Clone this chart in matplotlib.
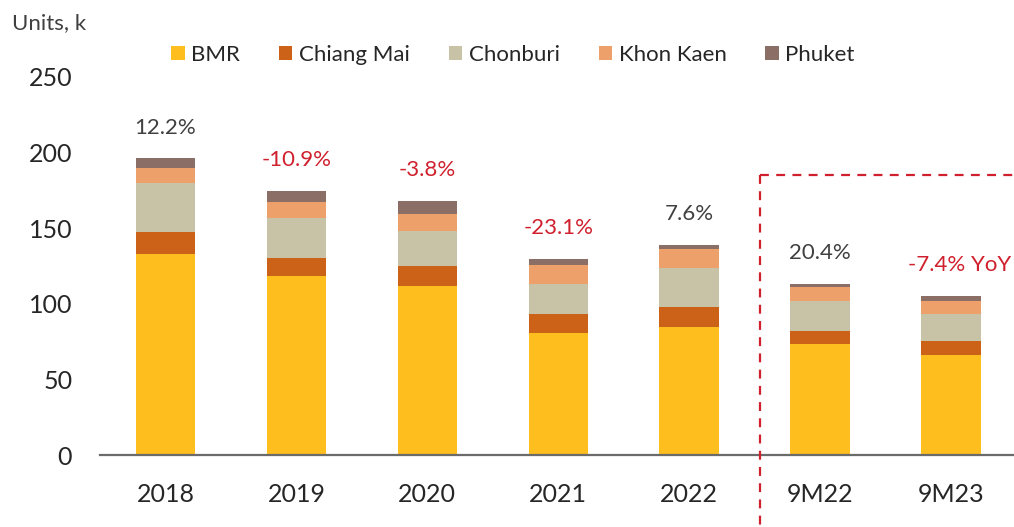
import numpy as np
import matplotlib.pyplot as plt

plt.rcParams['font.family'] = ['Lato', 'DejaVu Sans']

# data (units, thousands)
periods = ["2018", "2019", "2020", "2021", "2022", "9M22", "9M23"]
bmr = [132.7, 118.4, 111.8, 80.5, 84.9, 73.2, 66.3]
chiang_mai = [14.6, 12.1, 13.2, 12.8, 12.8, 9.0, 9.3]
chonburi = [32.4, 26.2, 23.1, 19.6, 25.8, 19.9, 17.7]
khon_kaen = [9.9, 10.6, 11.5, 12.8, 13.0, 9.2, 8.3]
phuket = [6.6, 7.3, 8.4, 3.9, 2.4, 1.8, 3.8]
growth_labels = ["12.2%", "-10.9%", "-3.8%", "-23.1%", "7.6%", "20.4%", "-7.4% YoY"]
yticks = [0, 50, 100, 150, 200, 250]

series = [
    ("BMR", bmr, "#FDBE1E"),
    ("Chiang Mai", chiang_mai, "#CC6118"),
    ("Chonburi", chonburi, "#C8C3A6"),
    ("Khon Kaen", khon_kaen, "#EDA06A"),
    ("Phuket", phuket, "#8B6E66"),
]

RED = "#D0202E"
TXT = "#262626"

fig = plt.figure(figsize=(10.14, 5.27), dpi=100)
ax = fig.add_axes([0.0986, 0.1366, 0.9014, 0.7173])

x = np.arange(len(periods))
bottom = np.zeros(len(periods))
for name, vals, col in series:
    ax.bar(x, vals, width=0.455, bottom=bottom, color=col, label=name, zorder=2)
    bottom += np.array(vals)

# growth annotations above each stack
for xi, tot, lab in zip(x, bottom, growth_labels):
    col = RED if lab.startswith("-") else "#404040"
    dx = 6 if "YoY" in lab else 0
    ax.annotate(lab, (xi, tot), xytext=(dx, 22), textcoords="offset points",
                ha="center", va="center", fontsize=16, color=col)

ax.set_xlim(-0.5, 6.48)
ax.set_ylim(0, 250)
ax.set_yticks(yticks)
ax.set_xticks(x)
ax.set_xticklabels(periods)
ax.tick_params(axis="both", length=0, labelsize=18, labelcolor=TXT)
ax.tick_params(axis="y", pad=20)
ax.tick_params(axis="x", pad=20)

for s in ["top", "right", "left"]:
    ax.spines[s].set_visible(False)
ax.spines["bottom"].set_color("#6b6b6b")
ax.spines["bottom"].set_linewidth(1.6)
ax.spines["bottom"].set_zorder(3)

# dashed box around the 9M comparison
box_x, box_top = 4.54, 185.2
ax.plot([box_x, box_x], [box_top, -50], color=RED, lw=1.6, dashes=(4, 3.3),
        clip_on=False, zorder=4)
ax.plot([box_x, 6.7], [box_top, box_top], color=RED, lw=1.6, dashes=(4, 3.3),
        clip_on=False, zorder=4)

fig.legend(loc="center", bbox_to_anchor=(513 / 1014, 1 - 55 / 527), ncol=5,
           frameon=False, fontsize=16, handlelength=0.6, handleheight=0.6,
           handletextpad=0.3, columnspacing=1.75, labelcolor=TXT)

fig.text(12 / 1014, 1 - 23 / 527, "Units, k", fontsize=16, color="#404040",
         ha="left", va="center")

fig.savefig("out.png", dpi=100)
